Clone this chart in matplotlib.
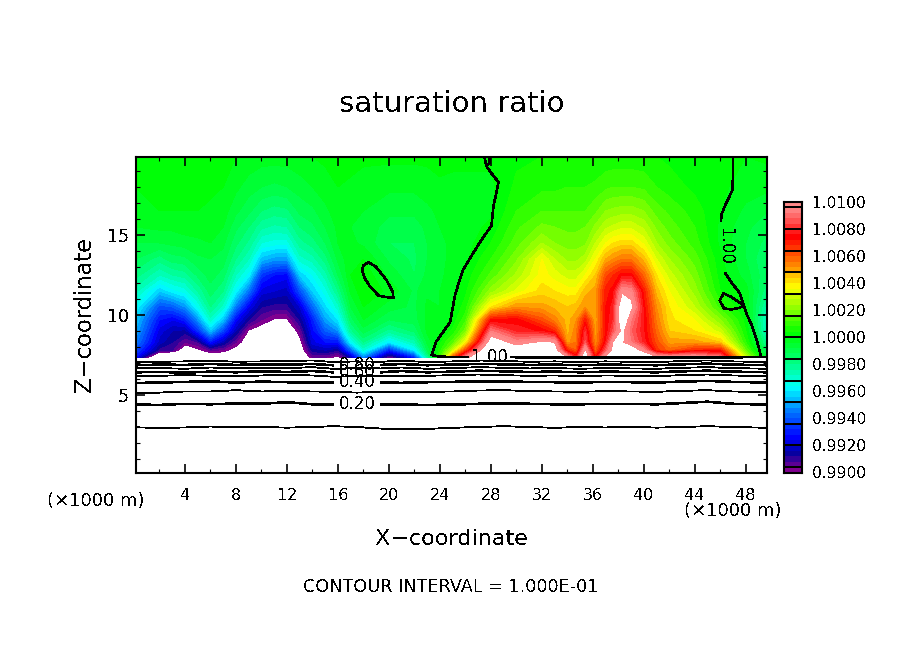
import numpy as np
from matplotlib import pyplot as plt
from matplotlib.colors import LinearSegmentedColormap, ListedColormap, BoundaryNorm

plt.rcParams['font.family'] = 'DejaVu Sans'
plt.rcParams['text.antialiased'] = False

W = 904
H = 654

# grid of the shaded field, km
x_km = [0.1, 2, 3, 4, 5, 6, 7, 8, 9, 10, 11, 12, 13, 14, 15, 16, 17, 18, 20, 22, 23, 24, 25, 26, 28, 30, 32, 33, 34,
        34.7, 35.4, 36.2, 37, 37.6, 38.3, 39, 40, 41, 42, 44, 46, 48, 49.75]
z_km = [7.35, 7.8, 8.3, 9, 9.7, 10.5, 11.5, 12.5, 13.5, 14.5, 15.5, 16.5, 18, 19.9]

# saturation ratio minus one, in 1e-4, one row per x
sat_dev = [
    [-72, -62, -54, -48, -44, -36, -26, -18, -12, -8, -4, -2, 0, 2],
    [-125, -90, -82, -78, -72, -62, -44, -28, -18, -8, -3, 0, 2, 2],
    [-125, -92, -88, -84, -76, -60, -38, -24, -14, -7, -3, 0, 1, 2],
    [-115, -108, -96, -86, -70, -52, -34, -22, -13, -6, -2, 0, 1, 2],
    [-110, -102, -92, -68, -52, -36, -24, -15, -9, -5, -2, 0, 1, 2],
    [-110, -95, -72, -46, -30, -20, -14, -10, -8, -4, -2, -1, 1, 2],
    [-110, -97, -84, -64, -46, -30, -20, -14, -10, -7, -4, -2, 0, 1],
    [-115, -104, -96, -84, -74, -56, -38, -28, -20, -15, -11, -7, -3, 0],
    [-120, -112, -106, -101, -88, -76, -56, -38, -28, -21, -16, -11, -6, -1],
    [-125, -118, -112, -105, -96, -88, -78, -66, -46, -32, -23, -16, -8, -2],
    [-130, -124, -118, -110, -101, -90, -80, -72, -50, -34, -25, -18, -9, -2],
    [-130, -124, -118, -112, -101, -90, -82, -74, -50, -34, -24, -17, -8, -2],
    [-112, -108, -104, -96, -88, -80, -62, -44, -30, -22, -16, -11, -6, -1],
    [-96, -86, -78, -74, -70, -58, -44, -36, -26, -18, -13, -9, -4, 0],
    [-96, -84, -72, -60, -50, -42, -34, -26, -18, -12, -8, -5, -2, 1],
    [-103, -88, -72, -52, -40, -30, -20, -12, -7, -4, -3, -2, 0, 2],
    [-85, -60, -38, -22, -14, -8, -3, 0, -1, -3, -4, -3, -1, 2],
    [-55, -32, -20, -10, -4, 0, 3, 3, 0, -5, -5, -4, -2, 1],
    [-98, -70, -40, -22, -12, -6, -1, -5, -9, -12, -10, -7, -3, 1],
    [-70, -40, -26, -15, -10, -9, -9, -12, -13, -12, -10, -7, -3, 1],
    [-25, -12, -7, -3, -3, -3, -5, -7, -8, -8, -7, -5, -2, 1],
    [12, 6, 3, -1, -3, -4, -4, -5, -5, -5, -4, -3, -1, 2],
    [60, 28, 14, 5, 1, 0, -1, -2, -3, -3, -3, -2, -1, 1],
    [95, 62, 36, 18, 11, 6, 3, 1, -1, -2, -2, -2, -1, 1],
    [130, 125, 110, 92, 72, 40, 22, 13, 8, 4, 1, -1, -1, 1],
    [125, 110, 95, 78, 74, 52, 33, 25, 19, 14, 11, 8, 5, 3],
    [125, 112, 102, 75, 62, 50, 42, 38, 36, 24, 17, 12, 7, 4],
    [125, 110, 100, 68, 54, 47, 40, 34, 28, 20, 16, 12, 7, 4],
    [100, 68, 50, 46, 46, 44, 38, 30, 23, 18, 15, 12, 8, 4],
    [78, 60, 56, 55, 52, 46, 38, 30, 23, 18, 15, 12, 8, 4],
    [115, 103, 85, 80, 70, 52, 46, 36, 26, 19, 16, 12, 8, 4],
    [72, 58, 52, 50, 48, 50, 50, 44, 36, 28, 21, 15, 9, 4],
    [105, 85, 75, 72, 72, 72, 70, 62, 48, 36, 27, 20, 11, 5],
    [125, 105, 101, 85, 80, 78, 74, 68, 52, 40, 29, 21, 12, 5],
    [125, 115, 102, 104, 115, 115, 98, 74, 56, 42, 31, 22, 12, 5],
    [125, 112, 92, 88, 92, 104, 95, 74, 56, 42, 31, 22, 12, 5],
    [120, 95, 78, 76, 76, 74, 70, 58, 46, 35, 27, 20, 11, 5],
    [105, 66, 62, 58, 55, 52, 46, 40, 32, 24, 19, 14, 8, 4],
    [102, 58, 50, 44, 41, 40, 36, 30, 24, 18, 14, 11, 6, 3],
    [105, 68, 50, 40, 36, 28, 22, 18, 14, 10, 8, 6, 3, 2],
    [92, 70, 44, 30, 20, 10, 4, 2, 1, -1, -1, 0, 1, 2],
    [30, 16, 8, 4, 2, 0, -2, -6, -8, -8, -7, -5, -2, 0],
    [-10, -18, -24, -32, -33, -28, -20, -16, -17, -14, -11, -8, -3, 1],
]

# contour 1.00, traced pieces
c100_a_x = [18.0, 18.4, 19.0, 19.8, 20.3, 20.35, 19.2, 18.5, 18.1, 17.9, 18.0]
c100_a_z = [13.1, 13.3, 13.0, 12.2, 11.45, 11.05, 11.2, 11.8, 12.3, 12.8, 13.1]
c100_b_x = [23.35, 23.7, 24.3, 24.8, 25.2, 25.8, 26.4, 27.1, 28.05, 28.2, 28.6, 28.0, 27.65, 27.5]
c100_b_z = [7.5, 8.33, 9.0, 9.55, 11.3, 12.8, 13.6, 14.5, 15.6, 16.8, 18.3, 18.9, 19.3, 19.85]
c100_c_x = [27.65, 27.9, 27.9]
c100_c_z = [19.3, 19.5, 19.85]
c100_d_x = [47.0, 47.0, 46.95, 46.4, 46.1, 46.05]
c100_d_z = [19.85, 18.9, 17.8, 16.9, 16.3, 15.9]
c100_e_x = [46.4, 46.9, 47.5, 47.85, 47.5, 46.9, 46.3, 45.95, 46.25, 46.8, 47.85, 48.1, 48.5, 48.9, 49.2]
c100_e_z = [12.6, 12.0, 11.4, 10.6, 10.45, 10.35, 10.4, 10.9, 11.35, 11.15, 10.6, 10.0, 9.3, 8.3, 7.4]
c100_base_x = [23.35, 24, 25, 26.2, 28, 29.6, 30.5, 34, 38, 42, 45.5, 49.2, 49.7]
c100_base_z = [7.5, 7.4, 7.37, 7.37, np.nan, 7.37, 7.35, 7.35, 7.33, 7.33, 7.35, 7.37, 7.37]

# lower contours, height in km along line_x; nan opens the gap for the label
line_x = [0.15, 2, 4, 6, 8, 10, 12, 14, 15.6, 17.5, 19.4, 21, 23, 25, 27, 29, 31, 33, 35, 37, 39, 41, 43, 45, 47, 49.7]
line_01 = [2.98, 2.94, 2.97, 3.03, 2.98, 3.0, 2.96, 3.0, 3.05, 3.0, 2.9, 2.85, 2.88, 2.95, 3.0, 3.05, 3.0, 2.95, 3.0,
           2.97, 3.02, 2.96, 3.0, 3.05, 3.0, 2.95]
line_02 = [4.4, 4.38, 4.45, 4.42, 4.47, 4.45, 4.55, 4.42, 4.42, np.nan, 4.42, 4.4, 4.38, 4.4, 4.45, 4.48, 4.45, 4.42,
           4.42, 4.45, 4.44, 4.42, 4.5, 4.58, 4.45, 4.4]
line_03 = [5.15, 5.15, 5.22, 5.22, 5.3, 5.22, 5.25, 5.22, 5.2, 5.15, 5.2, 5.18, 5.2, 5.22, 5.28, 5.3, 5.25, 5.22,
           5.2, 5.24, 5.22, 5.2, 5.26, 5.3, 5.22, 5.18]
line_04 = [5.75, 5.78, 5.82, 5.85, 5.78, 5.84, 5.8, 5.78, 5.78, np.nan, 5.78, 5.76, 5.8, 5.82, 5.86, 5.84, 5.82, 5.8,
           5.78, 5.82, 5.8, 5.78, 5.84, 5.88, 5.82, 5.78]
line_05 = [6.17, 6.2, 6.24, 6.2, 6.16, 6.22, 6.26, 6.22, 6.14, 6.18, 6.2, 6.17, 6.2, 6.24, 6.28, 6.24, 6.2, 6.22,
           6.18, 6.22, 6.2, 6.18, 6.24, 6.28, 6.22, 6.18]
line_06 = [6.42, 6.44, 6.4, 6.46, 6.42, 6.48, 6.44, 6.5, 6.42, np.nan, 6.42, 6.5, 6.42, 6.46, 6.52, 6.48, 6.44, 6.46,
           6.42, 6.46, 6.44, 6.42, 6.48, 6.52, 6.46, 6.42]
line_07 = [6.66, 6.68, 6.64, 6.72, 6.66, 6.7, 6.68, 6.74, 6.64, 6.68, 6.66, 6.72, 6.64, 6.68, 6.74, 6.7, 6.66, 6.68,
           6.64, 6.68, 6.66, 6.64, 6.7, 6.74, 6.68, 6.64]
line_08 = [6.86, 6.9, 6.88, 6.94, 6.88, 6.92, 6.9, 6.94, 6.86, np.nan, 6.88, 6.94, 6.86, 6.9, 6.94, 6.92, 6.88, 6.9,
           6.86, 6.9, 6.88, 6.86, 6.92, 6.96, 6.9, 6.86]
line_09 = [7.06, 7.08, 7.1, 7.14, 7.08, 7.1, 7.12, 7.16, 7.06, 7.1, 7.08, 7.14, 7.06, 7.1, 7.16, 7.12, 7.08, 7.1,
           7.06, 7.1, 7.08, 7.06, 7.12, 7.16, 7.1, 7.06]

x_major = [4, 8, 12, 16, 20, 24, 28, 32, 36, 40, 44, 48]
x_minor = [2, 6, 10, 14, 18, 22, 26, 30, 34, 38, 42, 46]
z_major = [5, 10, 15]
z_minor = [1, 2, 3, 4, 6, 7, 8, 9, 11, 12, 13, 14, 16, 17, 18, 19]

# colour bar
bar_labels = ['0.9900', '0.9920', '0.9940', '0.9960', '0.9980', '1.0000', '1.0020', '1.0040', '1.0060', '1.0080',
              '1.0100']
bar_values = [0.990, 0.992, 0.994, 0.996, 0.998, 1.000, 1.002, 1.004, 1.006, 1.008, 1.010]
bar_lines = [0.9904, 0.992, 0.9936, 0.9952, 0.9968, 0.9984, 1.0, 1.0016, 1.0032, 1.0048, 1.0064, 1.008, 1.0096]
anchor_pos = [0, 0.01, 0.07, 0.13, 0.23, 0.315, 0.405, 0.515, 0.60, 0.685, 0.775, 0.87, 0.97, 1]
anchor_col = ['#800090', '#800090', '#0000a0', '#0000ff', '#0080ff', '#00ffff', '#00ff80', '#00ff00', '#80ff00',
              '#ffff00', '#ff8000', '#ff0000', '#ff8080', '#ff8c8c']


def px_axes(left, top, right, bottom):
    return plt.figure(1).add_axes([left / W, 1 - bottom / H, (right - left) / W, (bottom - top) / H])


def px_text(x, y, s, **kw):
    plt.figure(1).text(x / W, 1 - y / H, s, ha='center', va='center', **kw)


fig = plt.figure(1, figsize=(W / 100, H / 100), dpi=100)
ax = px_axes(136, 157, 767.5, 473)

levels = np.linspace(0.99, 1.01, 51)
smooth = LinearSegmentedColormap.from_list('sat', list(zip(anchor_pos, anchor_col)), N=256)
cmap = ListedColormap(smooth((np.arange(50) + 0.5) / 50))
norm = BoundaryNorm(levels, cmap.N)

sat = 1 + np.array(sat_dev).T * 1e-4
ax.contourf(x_km, z_km, sat, levels=levels, cmap=cmap, norm=norm, antialiased=False)

for px, pz in [(c100_a_x, c100_a_z), (c100_b_x, c100_b_z), (c100_c_x, c100_c_z), (c100_d_x, c100_d_z),
               (c100_e_x, c100_e_z), (c100_base_x, c100_base_z)]:
    ax.plot(px, pz, 'k-', lw=1.15, antialiased=False)

for line, width in [(line_01, 0.6), (line_02, 1.15), (line_03, 0.6), (line_04, 1.15), (line_05, 0.6), (line_06, 1.15),
                    (line_07, 0.6), (line_08, 1.15), (line_09, 0.6)]:
    ax.plot(line_x, line, 'k-', lw=width, antialiased=False)

for lab, zpos in [('0.20', 4.45), ('0.40', 5.8), ('0.60', 6.43), ('0.80', 6.9)]:
    ax.text(17.5, zpos, lab, fontsize=12, ha='center', va='center')
ax.text(27.9, 7.38, '1.00', fontsize=12, ha='center', va='center')
ax.text(46.35, 14.28, '1.00', fontsize=12, ha='center', va='center', rotation=-90)

ax.set_xlim(0.157, 49.7)
ax.set_ylim(0.125, 19.875)
ax.set_xticks(x_major)
ax.set_xticks(x_minor, minor=True)
ax.set_yticks(z_major)
ax.set_yticks(z_minor, minor=True)
ax.tick_params(which='major', direction='in', top=True, right=True, length=6.5, width=1.2, labelsize=11.5, pad=11)
ax.tick_params(which='minor', direction='in', top=True, right=True, length=3, width=0.8)
ax.tick_params(axis='y', which='major', pad=5, labelsize=12.5)
for s in ax.spines.values():
    s.set_linewidth(1.5)

cax = px_axes(784, 202, 802.5, 472.5)
cbar_x = [0, 1]
cbar_y = levels
cax.pcolormesh(cbar_x, cbar_y, ((levels[:-1] + levels[1:]) / 2).reshape(-1, 1), cmap=cmap, norm=norm,
               antialiased=False)
cax.hlines(bar_lines, 0, 1, colors='k', lw=1.4, antialiased=False)
cax.set_xticks([])
cax.yaxis.tick_right()
cax.set_yticks(bar_values)
cax.set_yticklabels(bar_labels, fontsize=11.2)
cax.tick_params(axis='y', length=0, pad=7)
cax.set_ylim(0.99, 1.01)
for s in cax.spines.values():
    s.set_linewidth(1.5)

px_text(452, 104, 'saturation ratio', fontsize=21)
px_text(84, 314, 'Z\u2212coordinate', fontsize=16.3, rotation=90)
px_text(452, 539, 'X\u2212coordinate', fontsize=16)
px_text(96, 501, '(\u00d71000 m)', fontsize=13)
px_text(733, 511, '(\u00d71000 m)', fontsize=13)
px_text(451, 587, 'CONTOUR INTERVAL = 1.000E-01', fontsize=12.7)

plt.savefig('out.png', dpi=100)
